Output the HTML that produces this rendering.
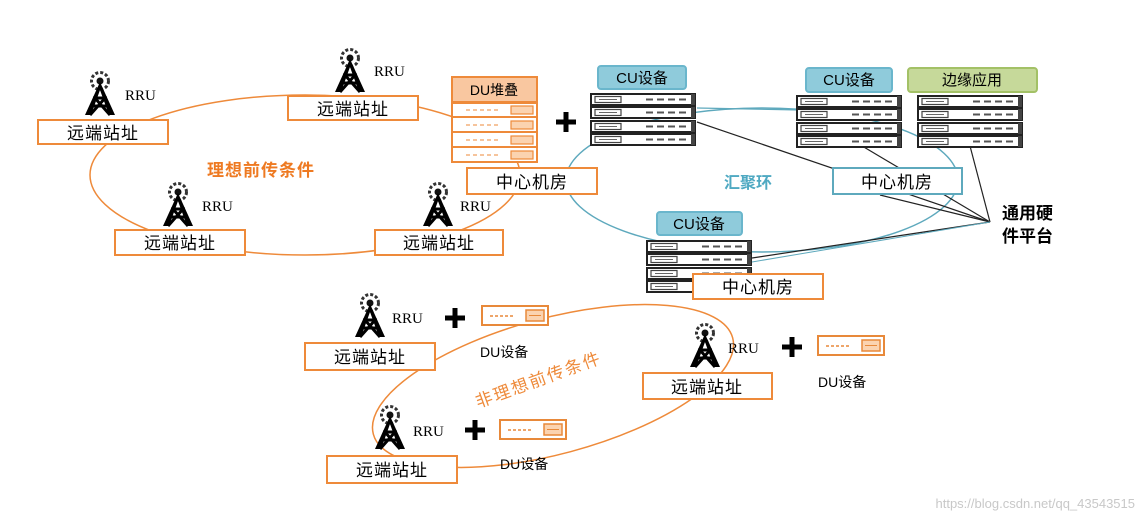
<!DOCTYPE html>
<html><head><meta charset="utf-8"><style>
html,body{margin:0;padding:0;background:#fff;width:1144px;height:520px;overflow:hidden}
svg{display:block}
text{font-family:"Liberation Serif","Noto Sans CJK SC",serif}
.cn{font-family:"Liberation Sans","Noto Sans CJK SC",sans-serif}
.wm{font-family:"Liberation Sans",sans-serif}
.bx{letter-spacing:1px}
</style></head><body>
<svg width="1144" height="520" viewBox="0 0 1144 520" xmlns="http://www.w3.org/2000/svg">
<defs>
<g id="tower">
  <circle cx="0" cy="7" r="8.5" fill="none" stroke="#333" stroke-width="3" stroke-dasharray="3 2"/>
  <circle cx="0" cy="7" r="3.5" fill="#111"/>
  <path d="M0 8 L-15 41 L-9 41 L0 16 L9 41 L15 41 Z" fill="#000"/>
  <path d="M-7 24 L7 24 M-10 32 L10 32 M-6 23 L10 41 M6 23 L-10 41" stroke="#000" stroke-width="3"/>
</g>
<g id="srv">
  <rect x="0" y="0" width="104" height="11" fill="#fff" stroke="#222" stroke-width="2"/>
  <rect x="4" y="2.5" width="26" height="6" fill="#fff" stroke="#444" stroke-width="1.2"/>
  <path d="M8 5.5 H26" stroke="#666" stroke-width="1"/>
  <path d="M55 5.5 H62 M66 5.5 H73 M77 5.5 H84 M88 5.5 H95" stroke="#555" stroke-width="2"/>
  <rect x="100" y="0" width="4" height="11" fill="#444"/>
</g>
<g id="stack">
  <use href="#srv" y="0"/><use href="#srv" y="13"/><use href="#srv" y="27"/><use href="#srv" y="40"/>
</g>
<g id="du">
  <rect x="0" y="0" width="66" height="19" fill="#fff" stroke="#e8893a" stroke-width="2"/>
  <path d="M8 10 H32" stroke="#e8893a" stroke-width="1.5" stroke-dasharray="3 2"/>
  <rect x="44" y="4" width="18" height="11" fill="#fbd3b0" stroke="#e8893a" stroke-width="1.5"/>
  <path d="M47 9.5 H59" stroke="#e8893a"/>
</g>
<g id="plus"><path d="M-10 0 H10 M0 -10 V10" stroke="#000" stroke-width="5"/></g>
</defs>

<ellipse cx="305" cy="175" rx="215" ry="80" fill="none" stroke="#ee8a3a" stroke-width="1.5"/>
<ellipse cx="762" cy="180" rx="196" ry="72" fill="none" stroke="#5ea9bd" stroke-width="1.5"/>
<ellipse cx="553" cy="386" rx="186" ry="68" transform="rotate(-15 553 386)" fill="none" stroke="#ee8a3a" stroke-width="1.5"/>

<g stroke="#222" stroke-width="1.2" fill="none">
<path d="M990 222 L697 122"/><path d="M990 222 L852 140"/><path d="M990 222 L880 195"/>
<path d="M990 222 L970 146"/><path d="M990 222 L752 258"/>
</g>
<path d="M697 108 L800 110" stroke="#5ea9bd" stroke-width="1.2"/>
<path d="M752 262 L990 222" stroke="#5ea9bd" stroke-width="1" fill="none"/>

<use href="#tower" x="100" y="74"/>
<text x="125" y="100" font-size="15">RRU</text>
<rect x="38" y="120" width="130" height="24" fill="#fff" stroke="#ee8a3a" stroke-width="2"/>
<text x="103" y="139" font-size="17" text-anchor="middle" class="cn bx">远端站址</text>

<use href="#tower" x="350" y="51"/>
<text x="374" y="76" font-size="15">RRU</text>
<rect x="288" y="96" width="130" height="24" fill="#fff" stroke="#ee8a3a" stroke-width="2"/>
<text x="353" y="115" font-size="17" text-anchor="middle" class="cn bx">远端站址</text>

<use href="#tower" x="178" y="185"/>
<text x="202" y="211" font-size="15">RRU</text>
<rect x="115" y="230" width="130" height="25" fill="#fff" stroke="#ee8a3a" stroke-width="2"/>
<text x="180" y="249" font-size="17" text-anchor="middle" class="cn bx">远端站址</text>

<use href="#tower" x="438" y="185"/>
<text x="460" y="211" font-size="15">RRU</text>
<rect x="375" y="230" width="128" height="25" fill="#fff" stroke="#ee8a3a" stroke-width="2"/>
<text x="439" y="249" font-size="17" text-anchor="middle" class="cn bx">远端站址</text>

<text x="207" y="176" font-size="17" font-weight="bold" fill="#ee7a22" class="cn" letter-spacing="1">理想前传条件</text>

<rect x="452" y="77" width="85" height="25" fill="#f9c7a0" stroke="#ee8a3a" stroke-width="2"/>
<text x="494" y="95" font-size="14" text-anchor="middle" class="cn">DU堆叠</text>
<g stroke="#ee8a3a" stroke-width="2" fill="#fff">
<rect x="452" y="103" width="85" height="14"/><rect x="452" y="117" width="85" height="15"/>
<rect x="452" y="132" width="85" height="15"/><rect x="452" y="147" width="85" height="15"/>
</g>
<g stroke="#ee8a3a" stroke-width="1.2" fill="#fbd3b0">
<rect x="511" y="106" width="22" height="8"/><rect x="511" y="121" width="22" height="8"/>
<rect x="511" y="136" width="22" height="8"/><rect x="511" y="151" width="22" height="8"/>
</g>
<path d="M466 110 H500 M466 125 H500 M466 140 H500 M466 155 H500" stroke="#ee8a3a" stroke-dasharray="4 3"/>
<use href="#plus" x="566" y="122"/>
<rect x="467" y="168" width="130" height="26" fill="#fff" stroke="#ee8a3a" stroke-width="2"/>
<text x="532" y="188" font-size="17" text-anchor="middle" class="cn bx">中心机房</text>

<rect x="598" y="66" width="88" height="23" rx="3" fill="#8fcbdb" stroke="#6ab6cc" stroke-width="2"/>
<text x="642" y="83" font-size="15" text-anchor="middle" class="cn">CU设备</text>
<use href="#stack" x="591" y="94"/>

<rect x="806" y="68" width="86" height="24" rx="3" fill="#8fcbdb" stroke="#6ab6cc" stroke-width="2"/>
<text x="849" y="85" font-size="15" text-anchor="middle" class="cn">CU设备</text>
<use href="#stack" x="797" y="96"/>

<rect x="908" y="68" width="129" height="24" rx="3" fill="#c6d99a" stroke="#a3c166" stroke-width="2"/>
<text x="972" y="85" font-size="15" text-anchor="middle" class="cn">边缘应用</text>
<use href="#stack" x="918" y="96"/>

<text x="724" y="188" font-size="16" font-weight="bold" fill="#4fa9c2" class="cn">汇聚环</text>
<rect x="833" y="168" width="129" height="26" fill="#fff" stroke="#5ea9bd" stroke-width="2"/>
<text x="897" y="188" font-size="17" text-anchor="middle" class="cn bx">中心机房</text>

<text x="1002" y="219" font-size="17" font-weight="bold" class="cn">通用硬</text>
<text x="1002" y="242" font-size="17" font-weight="bold" class="cn">件平台</text>

<rect x="657" y="212" width="85" height="23" rx="3" fill="#8fcbdb" stroke="#6ab6cc" stroke-width="2"/>
<text x="699" y="229" font-size="15" text-anchor="middle" class="cn">CU设备</text>
<use href="#stack" x="647" y="241"/>
<rect x="693" y="274" width="130" height="25" fill="#fff" stroke="#ee8a3a" stroke-width="2"/>
<text x="758" y="293" font-size="17" text-anchor="middle" class="cn bx">中心机房</text>

<use href="#tower" x="370" y="296"/>
<text x="392" y="323" font-size="15">RRU</text>
<use href="#plus" x="455" y="318"/>
<use href="#du" x="482" y="306"/>
<text x="480" y="357" font-size="14" class="cn">DU设备</text>
<rect x="305" y="343" width="130" height="27" fill="#fff" stroke="#ee8a3a" stroke-width="2"/>
<text x="370" y="363" font-size="17" text-anchor="middle" class="cn bx">远端站址</text>

<use href="#tower" x="705" y="326"/>
<text x="728" y="353" font-size="15">RRU</text>
<use href="#plus" x="792" y="347"/>
<use href="#du" x="818" y="336"/>
<text x="818" y="387" font-size="14" class="cn">DU设备</text>
<rect x="643" y="373" width="129" height="26" fill="#fff" stroke="#ee8a3a" stroke-width="2"/>
<text x="707" y="393" font-size="17" text-anchor="middle" class="cn bx">远端站址</text>

<use href="#tower" x="390" y="408"/>
<text x="413" y="436" font-size="15">RRU</text>
<use href="#plus" x="475" y="430"/>
<use href="#du" x="500" y="420"/>
<text x="500" y="469" font-size="14" class="cn">DU设备</text>
<rect x="327" y="456" width="130" height="27" fill="#fff" stroke="#ee8a3a" stroke-width="2"/>
<text x="392" y="476" font-size="17" text-anchor="middle" class="cn bx">远端站址</text>

<text x="478" y="408" font-size="17" fill="#ee8a3a" class="cn" transform="rotate(-20 478 408)" letter-spacing="2">非理想前传条件</text>

<text x="1135" y="508" font-size="13" fill="#c8c8c8" text-anchor="end" class="wm">https://blog.csdn.net/qq_43543515</text>
</svg>
</body></html>
